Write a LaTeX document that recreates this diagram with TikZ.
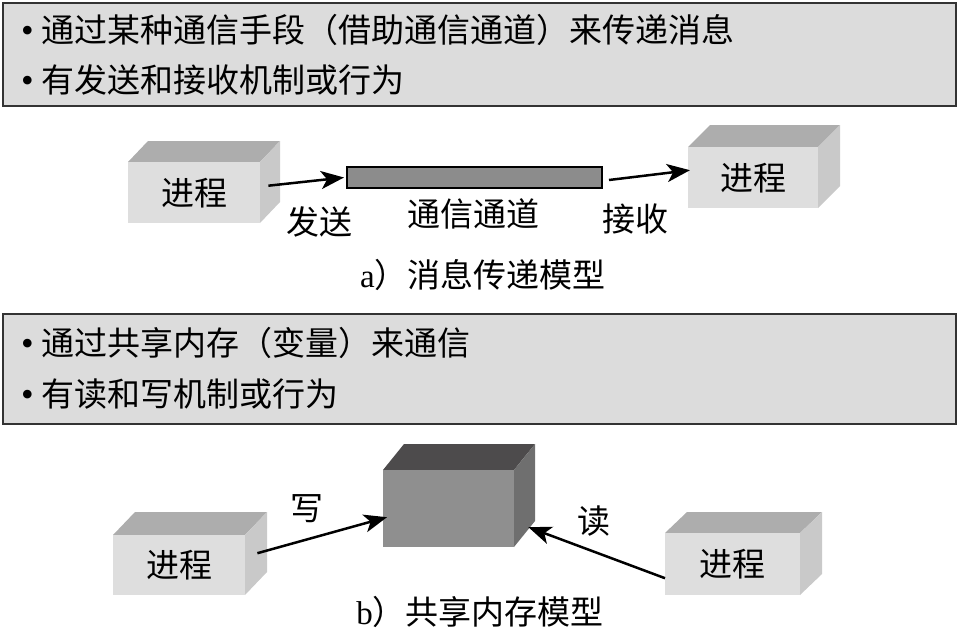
\documentclass[tikz,border=0pt]{standalone}
\usepackage{fontspec}
\setmainfont{Liberation Serif}
\newfontfamily\cjk{Noto Sans CJK SC}
\usetikzlibrary{arrows.meta,calc}

\definecolor{panel}{HTML}{DCDCDC}
\definecolor{panelline}{HTML}{333333}
\definecolor{lfront}{HTML}{DEDEDE}
\definecolor{ltop}{HTML}{ADADAD}
\definecolor{lside}{HTML}{C9C9C9}
\definecolor{dfront}{HTML}{8F8F8F}
\definecolor{dtop}{HTML}{4D4B4C}
\definecolor{dside}{HTML}{6F6F6F}
\definecolor{chanfill}{HTML}{8C8C8C}

\newcommand{\bul}{{\rmfamily\fontsize{36}{36}\selectfont •}}

\tikzset{
  panelbox/.style={draw=panelline, fill=panel, line width=2.5pt},
  txt/.style={font=\fontsize{33}{40}\selectfont\cjk, inner sep=0pt},
  linetxt/.style={txt, anchor=west},
  conn/.style={line width=2.5pt, -{Stealth[length=23pt,width=18pt,inset=6pt]}},
}

% name, x1, y1, x2, y2 (front face), dx, dy (depth), colour prefix, text
\newcommand{\cuboid}[9]{%
  \fill[#8top] (#2,#3) -- (#2+#6,#3-#7) -- (#4+#6,#3-#7) -- (#4,#3) -- cycle;
  \fill[#8side] (#4,#3) -- (#4+#6,#3-#7) -- (#4+#6,#5-#7) -- (#4,#5) -- cycle;
  \node[fill=#8front, inner sep=0pt, anchor=north west,
        minimum width={(#4-#2)*1pt}, minimum height={(#5-#3)*1pt},
        font=\fontsize{33}{40}\selectfont\cjk] (#1) at (#2,#3) {#9};
}

\begin{document}
\begin{tikzpicture}[x=1pt,y=-1pt]
\useasboundingbox (0,0) rectangle (959,632);

% ---- panel a ----
\draw[panelbox] (3,3) rectangle (956,106);
\node[linetxt] (a1) at (21,30) {\bul\hspace{8pt}通过某种通信手段（借助通信通道）来传递消息};
\node[linetxt] (a2) at (21,80) {\bul\hspace{8pt}有发送和接收机制或行为};

% ---- model a ----
\cuboid{pa1}{128}{162}{260}{223}{20}{21}{l}{进程}
\cuboid{pa2}{688}{147}{818}{208}{22}{22}{l}{进程}
\node[draw=black, fill=chanfill, line width=2pt, inner sep=0pt,
      minimum width=255pt, minimum height=21pt] (chan) at (474.5,177.5) {};

\draw[conn] ([xshift=8pt,yshift=7pt]pa1.east) -- ([xshift=-2pt]chan.west);
\draw[conn] ([xshift=6pt,yshift=-2.5pt]chan.east) -- ([xshift=2pt,yshift=7.5pt]pa2.west);

\node[txt] (send) at (319,222) {发送};
\node[txt] (chanlbl) at (473,214) {通信通道};
\node[txt] (recv) at (635,219) {接收};
\node[txt] (capa) at (483,275) {{\rmfamily a}）消息传递模型};

% ---- panel b ----
\draw[panelbox] (3,314) rectangle (956,424);
\node[linetxt] (b1) at (21,343) {\bul\hspace{8pt}通过共享内存（变量）来通信};
\node[linetxt] (b2) at (21,394) {\bul\hspace{8pt}有读和写机制或行为};

% ---- model b ----
\cuboid{mem}{383}{470}{514}{547}{21}{26}{d}{}
\cuboid{pb1}{113}{535}{245}{595}{22}{23}{l}{进程}
\cuboid{pb2}{665}{533}{800}{595}{22}{21}{l}{进程}

\draw[conn] ([xshift=12pt,yshift=12pt]pb1.east) -- ([xshift=4pt,yshift=-8.5pt]mem.west);
\draw[conn] ([yshift=-14pt]pb2.west) -- ([xshift=14pt,yshift=-18.5pt]mem.east);

\node[txt] (write) at (307,509) {写};
\node[txt] (read) at (594,521) {读};
\node[txt] (capb) at (480,612) {{\rmfamily b}）共享内存模型};
\end{tikzpicture}
\end{document}
